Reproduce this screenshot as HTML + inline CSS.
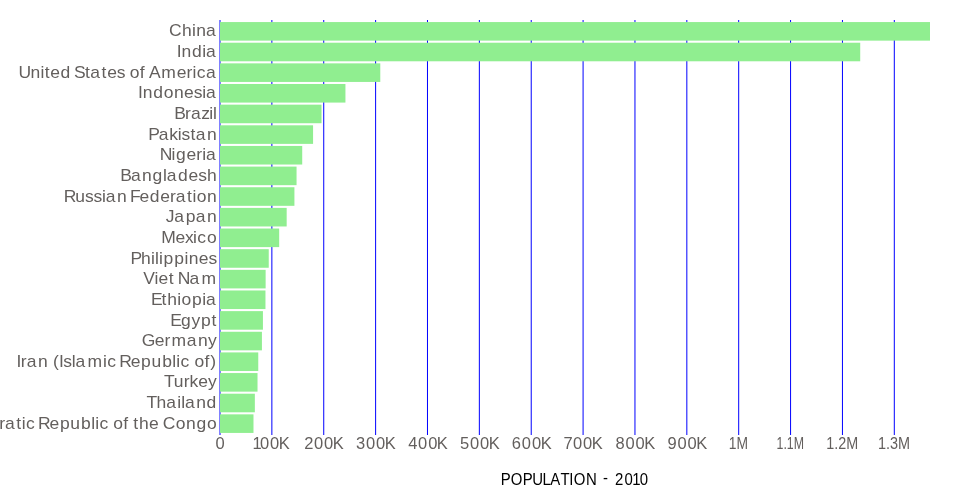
<!DOCTYPE html>
<html lang="en">
<head>
<meta charset="utf-8">
<title>Population - 2010</title>
<style>
html,body{margin:0;padding:0;background:#fff;overflow:hidden}
svg{display:block}
text{font-family:"Liberation Sans",sans-serif}
.bar{fill:#90ee90}
.grid line{stroke:#0000ff;stroke-width:1}
</style>
</head>
<body>
<svg width="960" height="500" viewBox="0 0 960 500">
<g class="grid">
<line x1="220.00" x2="220.00" y1="20" y2="435"/>
<line x1="271.87" x2="271.87" y1="20" y2="435"/>
<line x1="323.74" x2="323.74" y1="20" y2="435"/>
<line x1="375.61" x2="375.61" y1="20" y2="435"/>
<line x1="427.48" x2="427.48" y1="20" y2="435"/>
<line x1="479.35" x2="479.35" y1="20" y2="435"/>
<line x1="531.22" x2="531.22" y1="20" y2="435"/>
<line x1="583.09" x2="583.09" y1="20" y2="435"/>
<line x1="634.96" x2="634.96" y1="20" y2="435"/>
<line x1="686.83" x2="686.83" y1="20" y2="435"/>
<line x1="738.70" x2="738.70" y1="20" y2="435"/>
<line x1="790.57" x2="790.57" y1="20" y2="435"/>
<line x1="842.44" x2="842.44" y1="20" y2="435"/>
<line x1="894.31" x2="894.31" y1="20" y2="435"/>
</g>
<g class="xaxis">
<text transform="scale(1.02,1)" x="211.17" y="449.36" fill="#635f5d" font-size="16.2">0</text>
<text transform="scale(1.02,1)" x="247.52 254.90 264.75 273.31" y="449.36" fill="#635f5d" font-size="16.2">100K</text>
<text transform="scale(1.02,1)" x="298.40 307.75 317.60 326.16" y="449.36" fill="#635f5d" font-size="16.2">200K</text>
<text transform="scale(1.02,1)" x="349.14 358.72 368.57 377.14" y="449.36" fill="#635f5d" font-size="16.2">300K</text>
<text transform="scale(1.02,1)" x="400.18 409.89 419.74 428.31" y="449.36" fill="#635f5d" font-size="16.2">400K</text>
<text transform="scale(1.02,1)" x="451.02 460.74 470.59 479.15" y="449.36" fill="#635f5d" font-size="16.2">500K</text>
<text transform="scale(1.02,1)" x="501.79 511.64 521.49 530.06" y="449.36" fill="#635f5d" font-size="16.2">600K</text>
<text transform="scale(1.02,1)" x="552.55 561.80 571.65 580.22" y="449.36" fill="#635f5d" font-size="16.2">700K</text>
<text transform="scale(1.02,1)" x="603.46 613.32 623.17 631.73" y="449.36" fill="#635f5d" font-size="16.2">800K</text>
<text transform="scale(1.02,1)" x="654.37 664.16 674.01 682.58" y="449.36" fill="#635f5d" font-size="16.2">900K</text>
<text x="728.80" y="449.36" fill="#635f5d" font-size="16.0" textLength="19.24" lengthAdjust="spacingAndGlyphs">1M</text>
<text x="776.54" y="449.36" fill="#635f5d" font-size="16.0" textLength="27.49" lengthAdjust="spacingAndGlyphs">1.1M</text>
<text x="826.22" y="449.36" fill="#635f5d" font-size="16.0" textLength="31.88" lengthAdjust="spacingAndGlyphs">1.2M</text>
<text x="877.97" y="449.36" fill="#635f5d" font-size="16.0" textLength="32.11" lengthAdjust="spacingAndGlyphs">1.3M</text>
</g>
<g class="bars">
<rect class="bar" x="220" y="22.06" width="710.00" height="18.58"/>
<rect class="bar" x="220" y="42.71" width="640.22" height="18.58"/>
<rect class="bar" x="220" y="63.36" width="160.28" height="18.58"/>
<rect class="bar" x="220" y="84.00" width="125.44" height="18.58"/>
<rect class="bar" x="220" y="104.65" width="101.52" height="18.58"/>
<rect class="bar" x="220" y="125.30" width="93.07" height="18.58"/>
<rect class="bar" x="220" y="145.95" width="82.22" height="18.58"/>
<rect class="bar" x="220" y="166.59" width="76.55" height="18.58"/>
<rect class="bar" x="220" y="187.24" width="74.42" height="18.58"/>
<rect class="bar" x="220" y="207.89" width="66.67" height="18.58"/>
<rect class="bar" x="220" y="228.53" width="59.18" height="18.58"/>
<rect class="bar" x="220" y="249.18" width="48.74" height="18.58"/>
<rect class="bar" x="220" y="269.83" width="45.63" height="18.58"/>
<rect class="bar" x="220" y="290.47" width="45.46" height="18.58"/>
<rect class="bar" x="220" y="311.12" width="42.93" height="18.58"/>
<rect class="bar" x="220" y="331.77" width="41.92" height="18.58"/>
<rect class="bar" x="220" y="352.41" width="38.26" height="18.58"/>
<rect class="bar" x="220" y="373.06" width="37.52" height="18.58"/>
<rect class="bar" x="220" y="393.71" width="34.85" height="18.58"/>
<rect class="bar" x="220" y="414.35" width="33.49" height="18.58"/>
</g>
<g class="yaxis">
<text transform="scale(1.08,1)" x="156.51 168.52 177.79 181.67 190.81" y="36.48" fill="#635f5d" font-size="16.2">China</text>
<text transform="scale(1.08,1)" x="163.68 168.01 177.68 187.28 190.81" y="57.12" fill="#635f5d" font-size="16.2">India</text>
<text transform="scale(1.08,1)" x="17.10 28.21 37.45 41.40 46.57 56.09 65.40 68.57 78.64 83.62 94.05 99.22 108.16 115.76 120.23 129.49 134.07 137.89 149.21 163.65 172.75 178.28 182.21 190.81" y="77.77" fill="#635f5d" font-size="16.2">United States of America</text>
<text transform="scale(1.08,1)" x="127.81 132.13 141.80 151.61 161.11 170.45 179.38 187.28 190.81" y="98.42" fill="#635f5d" font-size="16.2">Indonesia</text>
<text transform="scale(1.08,1)" x="161.38 171.36 176.77 186.27 193.65 197.28" y="119.06" fill="#635f5d" font-size="16.2">Brazil</text>
<text transform="scale(1.08,1)" x="137.38 146.90 156.74 164.67 168.14 176.34 181.32 191.68" y="139.71" fill="#635f5d" font-size="16.2">Pakistan</text>
<text transform="scale(1.08,1)" x="147.83 158.91 162.96 172.66 181.75 187.28 190.81" y="160.36" fill="#635f5d" font-size="16.2">Nigeria</text>
<text transform="scale(1.08,1)" x="111.36 121.23 131.60 141.26 150.85 154.39 164.93 174.61 183.55 191.67" y="181.00" fill="#635f5d" font-size="16.2">Bangladesh</text>
<text transform="scale(1.08,1)" x="59.00 69.68 78.80 86.54 94.46 97.97 108.35 117.29 120.28 129.10 138.60 148.30 157.39 162.80 173.25 178.33 182.18 191.70" y="201.65" fill="#635f5d" font-size="16.2">Russian Federation</text>
<text transform="scale(1.08,1)" x="153.44 161.29 171.97 181.33 191.70" y="222.30" fill="#635f5d" font-size="16.2">Japan</text>
<text transform="scale(1.08,1)" x="149.40 162.62 171.20 178.83 182.74 191.67" y="242.94" fill="#635f5d" font-size="16.2">Mexico</text>
<text transform="scale(1.08,1)" x="120.80 130.65 139.93 143.56 147.22 151.40 161.42 170.89 174.77 184.09 193.03" y="263.59" fill="#635f5d" font-size="16.2">Philippines</text>
<text transform="scale(1.08,1)" x="132.64 143.08 146.80 156.22 161.00 164.58 175.56 186.58" y="284.24" fill="#635f5d" font-size="16.2">Viet Nam</text>
<text transform="scale(1.08,1)" x="139.84 149.56 154.87 164.13 167.99 177.80 187.27 190.79" y="304.88" fill="#635f5d" font-size="16.2">Ethiopia</text>
<text transform="scale(1.08,1)" x="157.75 167.58 177.26 186.08 195.85" y="325.53" fill="#635f5d" font-size="16.2">Egypt</text>
<text transform="scale(1.08,1)" x="131.24 143.20 152.31 158.73 172.98 183.35 192.67" y="346.18" fill="#635f5d" font-size="16.2">Germany</text>
<text transform="scale(1.08,1)" x="15.22 19.31 24.72 35.10 44.04 49.03 54.56 58.49 66.39 69.93 80.95 95.32 99.24 107.66 110.41 120.99 130.65 140.30 150.14 159.60 163.26 167.19 175.60 180.05 189.32 194.75" y="366.82" fill="#635f5d" font-size="16.2">Iran (Islamic Republic of)</text>
<text transform="scale(1.08,1)" x="151.79 160.95 170.25 175.47 183.48 192.67" y="387.47" fill="#635f5d" font-size="16.2">Turkey</text>
<text transform="scale(1.08,1)" x="135.66 144.84 154.00 164.13 167.76 171.30 181.67 191.32" y="408.12" fill="#635f5d" font-size="16.2">Thailand</text>
<text transform="scale(1.08,1)" x="-54.80 -43.60 -33.60 -19.02 -9.47 -0.76 4.65 15.09 20.18 24.11 32.51 35.28 45.85 55.51 65.17 75.01 84.46 88.12 92.05 100.45 104.92 114.18 118.77 123.33 128.62 137.98 146.79 150.67 162.68 172.19 181.84 191.66" y="428.76" fill="#635f5d" font-size="16.2">Democratic Republic of the Congo</text>
</g>
<text transform="scale(0.94,1)" x="532.83 543.44 556.05 566.17 577.00 585.45 596.23 605.57 610.39 623.49 635.29 641.50 649.21 654.24 664.39 672.53 680.53" y="485.00" fill="#000000" font-size="15.9">POPULATION <tspan dy="-1.6">-</tspan><tspan dy="1.6"> </tspan>2010</text>
</svg>
</body>
</html>
